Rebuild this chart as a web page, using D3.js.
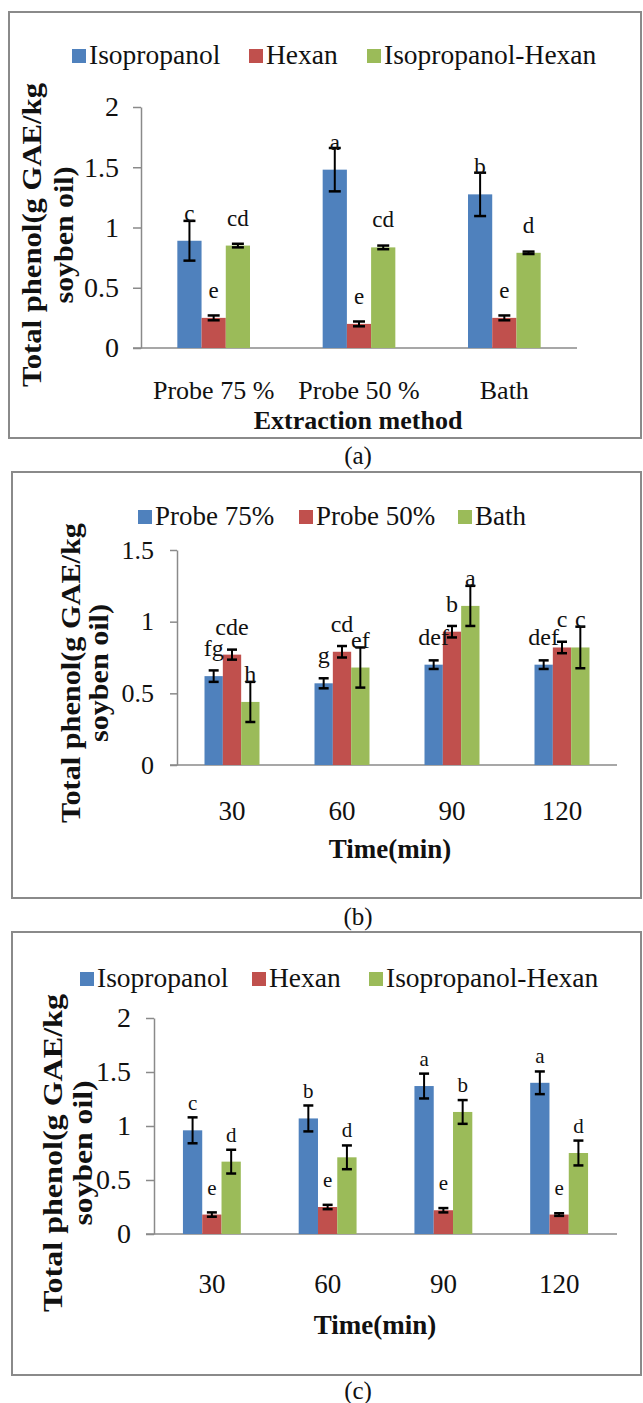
<!DOCTYPE html>
<html>
<head>
<meta charset="utf-8">
<script src="https://cdn.jsdelivr.net/npm/d3@7"></script>
<style>
  body { margin: 0; background: #fff; }
</style>
</head>
<body>
<svg id="fig" width="643" height="1403"></svg>
<script>
// === Données ===
// (a) méthode d'extraction
const seriesA = ["Isopropanol", "Hexan", "Isopropanol-Hexan"];
const catsA = ["Probe 75 %", "Probe 50 %", "Bath"];
const valsA = [[0.89, 1.48, 1.275], [0.25, 0.20, 0.25], [0.85, 0.835, 0.79]];
const errA = [[0.165, 0.18, 0.18], [0.02, 0.02, 0.02], [0.015, 0.015, 0.01]];
const lettersA = [["c", "a", "b"], ["e", "e", "e"], ["cd", "cd", "d"]];
const ticksA = [0, 0.5, 1, 1.5, 2];

// (b) temps, par méthode
const seriesB = ["Probe 75%", "Probe 50%", "Bath"];
const catsB = ["30", "60", "90", "120"];
const valsB = [[0.62, 0.57, 0.70, 0.70], [0.77, 0.79, 0.93, 0.82], [0.44, 0.68, 1.11, 0.82]];
const errB = [[0.04, 0.035, 0.03, 0.03], [0.035, 0.04, 0.04, 0.04], [0.14, 0.14, 0.14, 0.145]];
const lettersB = [["fg", "g", "def", "def"], ["cde", "cd", "b", "c"], ["h", "ef", "a", "c"]];
const ticksB = [0, 0.5, 1, 1.5];

// (c) temps, par solvant
const seriesC = ["Isopropanol", "Hexan", "Isopropanol-Hexan"];
const catsC = ["30", "60", "90", "120"];
const valsC = [[0.96, 1.07, 1.37, 1.40], [0.18, 0.25, 0.22, 0.18], [0.67, 0.71, 1.13, 0.75]];
const errC = [[0.12, 0.12, 0.115, 0.105], [0.02, 0.02, 0.02, 0.012], [0.11, 0.11, 0.11, 0.115]];
const lettersC = [["c", "b", "a", "a"], ["e", "e", "e", "e"], ["d", "d", "b", "d"]];
const ticksC = [0, 0.5, 1, 1.5, 2];

const COULEURS = ["#4f81bd", "#c0504d", "#9bbb59"];
const FONT = '"Liberation Serif", "Times New Roman", serif';
const GRIS = "#8a8a8a";

const svg = d3.select('#fig').style('font-family', FONT);

const panels = [
  {
    series: seriesA, cats: catsA, vals: valsA, errs: errA, letters: lettersA, ticks: ticksA,
    frame: [9, 12, 641, 438], x0: 141, x1: 577, yBase: 348, yTop: 107,
    tickSize: 8, tickPad: 14, tickFont: 28, catFont: 26, catY: 399, letterFont: 23, capW: 12,
    legend: { y: 49, sq: [72, 249, 367], font: 27.5 },
    ytitle: { cy: 235, b1: 41, b2: 73, l1: 304, l2: 137 },
    xtitle: { text: "Extraction method", x: 358, y: 429, font: 26 },
    caption: { text: "(a)", y: 464 }
  },
  {
    series: seriesB, cats: catsB, vals: valsB, errs: errB, letters: lettersB, ticks: ticksB,
    frame: [12, 472, 641, 898], x0: 177, x1: 617, yBase: 765, yTop: 550,
    tickSize: 7, tickPad: 16, tickFont: 26, catFont: 27, catY: 820, letterFont: 24, capW: 10,
    legend: { y: 510, sq: [138, 299, 458], font: 27 },
    ytitle: { cy: 673, b1: 80, b2: 108, l1: 300, l2: 138 },
    xtitle: { text: "Time(min)", x: 390, y: 858, font: 27 },
    caption: { text: "(b)", y: 925 }
  },
  {
    series: seriesC, cats: catsC, vals: valsC, errs: errC, letters: lettersC, ticks: ticksC,
    frame: [12, 932, 641, 1375], x0: 154, x1: 617, yBase: 1234, yTop: 1018,
    tickSize: 8, tickPad: 15, tickFont: 28, catFont: 27, catY: 1293, letterFont: 21, capW: 10,
    legend: { y: 972, sq: [80, 252, 369], font: 27.5 },
    ytitle: { cy: 1153, b1: 62, b2: 92, l1: 318, l2: 145 },
    xtitle: { text: "Time(min)", x: 375, y: 1334, font: 27 },
    caption: { text: "(c)", y: 1399 }
  }
];

panels.forEach(p => drawPanel(p));

function drawPanel(p) {
  const g = svg.append('g');
  const [fx0, fy0, fx1, fy1] = p.frame;

  // cadre
  g.append('rect')
    .attr('x', fx0).attr('y', fy0)
    .attr('width', fx1 - fx0).attr('height', fy1 - fy0)
    .attr('fill', 'none').attr('stroke', GRIS).attr('stroke-width', 2);

  // échelles
  const ymax = d3.max(p.ticks);
  const y = d3.scaleLinear().domain([0, ymax]).range([p.yBase, p.yTop]);
  const x = d3.scaleBand().domain(p.cats).range([p.x0, p.x1]).paddingInner(0.5).paddingOuter(0.25);
  const xs = d3.scaleBand().domain(p.series).range([0, x.bandwidth()]);

  // axe Y
  const yAxis = d3.axisLeft(y)
    .tickValues(p.ticks)
    .tickSize(p.tickSize).tickSizeOuter(0)
    .tickPadding(p.tickPad)
    .tickFormat(d => String(d));
  const ya = g.append('g').attr('transform', `translate(${p.x0},0)`).call(yAxis);
  ya.select('.domain').attr('stroke', GRIS).attr('stroke-width', 1.5);
  ya.selectAll('.tick line').attr('stroke', GRIS).attr('stroke-width', 1.5);
  ya.selectAll('.tick text')
    .attr('fill', '#111')
    .style('font-family', FONT)
    .style('font-size', p.tickFont + 'px');

  // axe X (ligne seule)
  g.append('line')
    .attr('x1', p.x0 - p.tickSize).attr('x2', p.x1)
    .attr('y1', y(0)).attr('y2', y(0))
    .attr('stroke', GRIS).attr('stroke-width', 1.5);

  // libellés des catégories
  g.selectAll('text.cat').data(p.cats).enter().append('text')
    .attr('class', 'cat')
    .attr('x', d => x(d) + x.bandwidth() / 2)
    .attr('y', p.catY)
    .attr('text-anchor', 'middle')
    .style('font-size', p.catFont + 'px')
    .attr('fill', '#111')
    .text(d => d);

  // barres + erreurs + lettres
  const items = [];
  p.series.forEach((s, si) => {
    p.cats.forEach((c, ci) => {
      items.push({ s, si, c, v: p.vals[si][ci], e: p.errs[si][ci], lab: p.letters[si][ci] });
    });
  });

  g.selectAll('rect.bar').data(items).enter().append('rect')
    .attr('class', 'bar')
    .attr('x', d => x(d.c) + xs(d.s))
    .attr('width', xs.bandwidth())
    .attr('y', d => y(d.v))
    .attr('height', d => y(0) - y(d.v))
    .attr('fill', d => COULEURS[d.si]);

  const eb = g.selectAll('g.err').data(items).enter().append('g')
    .attr('class', 'err')
    .attr('transform', d => `translate(${x(d.c) + xs(d.s) + xs.bandwidth() / 2},0)`);
  eb.append('line')
    .attr('y1', d => y(d.v - d.e)).attr('y2', d => y(d.v + d.e))
    .attr('stroke', '#000').attr('stroke-width', 2);
  eb.append('line')
    .attr('x1', -p.capW / 2).attr('x2', p.capW / 2)
    .attr('y1', d => y(d.v + d.e)).attr('y2', d => y(d.v + d.e))
    .attr('stroke', '#000').attr('stroke-width', 2.5);
  eb.append('line')
    .attr('x1', -p.capW / 2).attr('x2', p.capW / 2)
    .attr('y1', d => y(d.v - d.e)).attr('y2', d => y(d.v - d.e))
    .attr('stroke', '#000').attr('stroke-width', 2.5);

  g.selectAll('text.lettre').data(items).enter().append('text')
    .attr('class', 'lettre')
    .attr('x', d => x(d.c) + xs(d.s) + xs.bandwidth() / 2)
    .attr('y', d => y(d.v) - 20)
    .attr('text-anchor', 'middle')
    .style('font-size', p.letterFont + 'px')
    .attr('fill', '#111')
    .text(d => d.lab);

  // légende
  p.series.forEach((s, i) => {
    g.append('rect')
      .attr('x', p.legend.sq[i]).attr('y', p.legend.y)
      .attr('width', 14).attr('height', 14)
      .attr('fill', COULEURS[i]);
    g.append('text')
      .attr('x', p.legend.sq[i] + 17).attr('y', p.legend.y + 15)
      .style('font-size', p.legend.font + 'px')
      .attr('fill', '#111')
      .text(s);
  });

  // titre Y (deux lignes)
  const t = p.ytitle;
  [["Total phenol(g GAE/kg", t.b1, t.l1], ["soyben oil)", t.b2, t.l2]].forEach(([txt, bx, len]) => {
    g.append('text')
      .attr('transform', `translate(${bx},${t.cy}) rotate(-90)`)
      .attr('text-anchor', 'middle')
      .attr('textLength', len)
      .attr('lengthAdjust', 'spacingAndGlyphs')
      .style('font-size', '27px')
      .style('font-weight', 'bold')
      .attr('fill', '#111')
      .text(txt);
  });

  // titre X
  g.append('text')
    .attr('x', p.xtitle.x).attr('y', p.xtitle.y)
    .attr('text-anchor', 'middle')
    .style('font-size', p.xtitle.font + 'px')
    .style('font-weight', 'bold')
    .attr('fill', '#111')
    .text(p.xtitle.text);

  // légende de la sous-figure
  svg.append('text')
    .attr('x', 358).attr('y', p.caption.y)
    .attr('text-anchor', 'middle')
    .style('font-size', '25px')
    .attr('fill', '#111')
    .text(p.caption.text);
}
</script>
</body>
</html>
